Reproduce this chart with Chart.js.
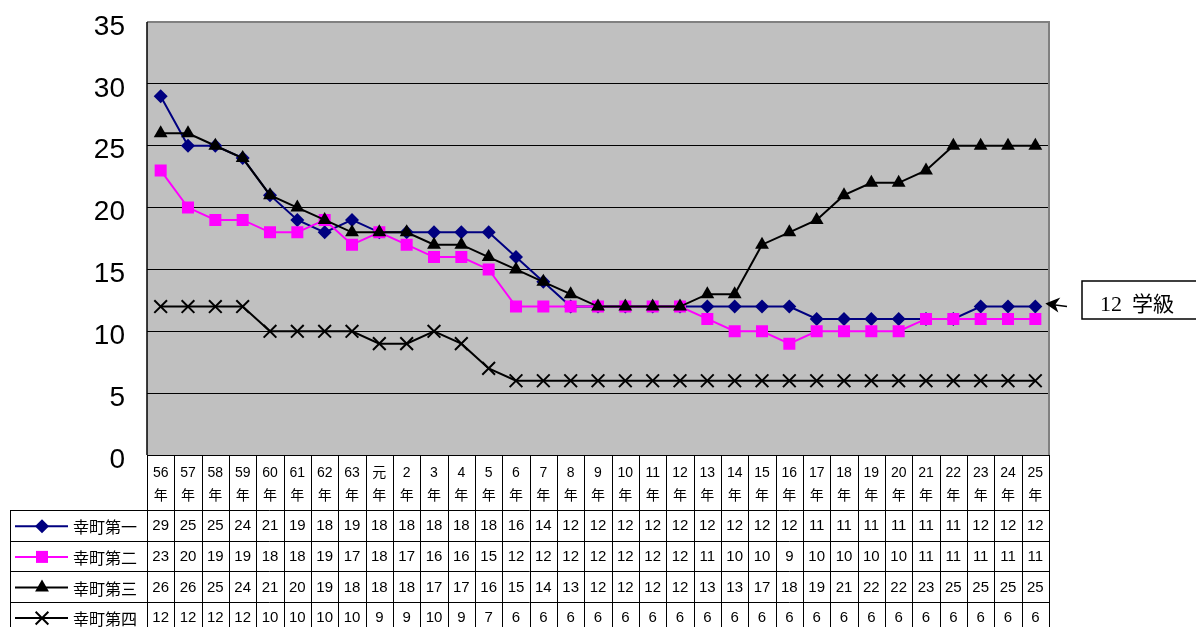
<!DOCTYPE html>
<html>
<head>
    <meta charset="utf-8" />
    <title>幸町 学級数の推移</title>
    <script src="https://cdn.jsdelivr.net/npm/chart.js@4.4.1/dist/chart.umd.min.js"></script>
    <style>
        html, body { margin: 0; padding: 0; background: #fff; }
        #wrap { width: 1196px; height: 627px; position: relative; }
    </style>
</head>
<body>
<div id="wrap"><canvas id="chartClasses"></canvas></div>
<script>
    // years (Showa 56 .. 63, Heisei 元 .. 25)
    var yearLabels = ['56', '57', '58', '59', '60', '61', '62', '63', '元', '2', '3', '4', '5', '6', '7', '8',
        '9', '10', '11', '12', '13', '14', '15', '16', '17', '18', '19', '20', '21', '22', '23', '24', '25'];

    var seriesNames = ['幸町第一', '幸町第二', '幸町第三', '幸町第四'];

    var daiichi = [29, 25, 25, 24, 21, 19, 18, 19, 18, 18, 18, 18, 18, 16, 14, 12, 12, 12, 12, 12, 12, 12, 12, 12,
        11, 11, 11, 11, 11, 11, 12, 12, 12];
    var daini = [23, 20, 19, 19, 18, 18, 19, 17, 18, 17, 16, 16, 15, 12, 12, 12, 12, 12, 12, 12, 11, 10, 10, 9,
        10, 10, 10, 10, 11, 11, 11, 11, 11];
    var daisan = [26, 26, 25, 24, 21, 20, 19, 18, 18, 18, 17, 17, 16, 15, 14, 13, 12, 12, 12, 12, 13, 13, 17, 18,
        19, 21, 22, 22, 23, 25, 25, 25, 25];
    var daiyon = [12, 12, 12, 12, 10, 10, 10, 10, 9, 9, 10, 9, 7, 6, 6, 6, 6, 6, 6, 6, 6, 6, 6, 6,
        6, 6, 6, 6, 6, 6, 6, 6, 6];

    var yTicks = [0, 5, 10, 15, 20, 25, 30, 35];

    var colors = ['#000080', '#FF00FF', '#000000', '#000000'];
    var styles = ['rectRot', 'rect', 'triangle', 'crossRot'];
    var radii = [7, 8.5, 8, 9];

    // draw a marker like chart.js does, for the table legend
    function marker(ctx, style, x, y, r, color) {
        ctx.save();
        ctx.fillStyle = color;
        ctx.strokeStyle = color;
        ctx.lineWidth = 2;
        ctx.beginPath();
        if (style === 'rectRot') {
            ctx.moveTo(x - r, y); ctx.lineTo(x, y - r); ctx.lineTo(x + r, y); ctx.lineTo(x, y + r);
            ctx.closePath(); ctx.fill();
        } else if (style === 'rect') {
            var s = r * Math.SQRT1_2;
            ctx.rect(x - s, y - s, 2 * s, 2 * s); ctx.fill();
        } else if (style === 'triangle') {
            ctx.moveTo(x, y - r); ctx.lineTo(x + 0.866 * r, y + 0.5 * r); ctx.lineTo(x - 0.866 * r, y + 0.5 * r);
            ctx.closePath(); ctx.fill();
        } else {
            var c = r * Math.SQRT1_2;
            ctx.moveTo(x - c, y - c); ctx.lineTo(x + c, y + c);
            ctx.moveTo(x + c, y - c); ctx.lineTo(x - c, y + c);
            ctx.stroke();
        }
        ctx.restore();
    }

    var plotBack = {
        id: 'plotBack',
        beforeDraw: function (chart) {
            var a = chart.chartArea, ctx = chart.ctx;
            ctx.save();
            ctx.fillStyle = '#C0C0C0';
            ctx.fillRect(a.left, a.top, a.right - a.left, a.bottom - a.top);
            ctx.restore();
        }
    };

    var dataTable = {
        id: 'dataTable',
        afterDraw: function (chart) {
            var ctx = chart.ctx, a = chart.chartArea, xs = chart.scales.x;
            var n = yearLabels.length;
            var colW = (a.right - a.left) / n;
            var top = a.bottom, headH = 55, rowH = 30.6;
            var allRows = [daiichi, daini, daisan, daiyon];
            var legendLeft = 10;

            ctx.save();
            // plot frame
            ctx.strokeStyle = '#808080';
            ctx.lineWidth = 2;
            ctx.beginPath();
            ctx.moveTo(a.left, a.top); ctx.lineTo(a.right, a.top); ctx.lineTo(a.right, a.bottom);
            ctx.stroke();
            ctx.strokeStyle = '#000';
            ctx.lineWidth = 1.5;
            ctx.beginPath();
            ctx.moveTo(a.left, a.top); ctx.lineTo(a.left, a.bottom);
            ctx.stroke();

            // table grid
            ctx.lineWidth = 1;
            ctx.strokeStyle = '#000';
            ctx.beginPath();
            ctx.moveTo(a.left, top + 0.5); ctx.lineTo(a.right, top + 0.5);
            for (var r = 0; r <= 4; r++) {
                var yy = Math.round(top + headH + r * rowH) + 0.5;
                ctx.moveTo(legendLeft, yy); ctx.lineTo(a.right, yy);
            }
            for (var i = 0; i <= n; i++) {
                var xx = Math.round(a.left + i * colW) + 0.5;
                ctx.moveTo(xx, top); ctx.lineTo(xx, 640);
            }
            ctx.moveTo(legendLeft + 0.5, top + headH); ctx.lineTo(legendLeft + 0.5, 640);
            ctx.stroke();

            // header labels
            ctx.fillStyle = '#000';
            ctx.textAlign = 'center';
            ctx.textBaseline = 'middle';
            for (i = 0; i < n; i++) {
                var cx = xs.getPixelForValue(i);
                ctx.font = '14px "Liberation Sans", Arial, "Noto Sans CJK JP"';
                ctx.fillText(yearLabels[i], cx, top + 18);
                ctx.font = '14px "Noto Sans CJK JP"';
                ctx.fillText('年', cx, top + 40);
            }

            // data rows
            for (r = 0; r < allRows.length; r++) {
                var cy = top + headH + r * rowH + rowH / 2 + 1;
                ctx.font = '15px "Liberation Sans", Arial';
                ctx.textAlign = 'center';
                for (i = 0; i < n; i++) {
                    ctx.fillText(String(allRows[r][i]), xs.getPixelForValue(i), cy);
                }
                // legend key
                ctx.strokeStyle = colors[r];
                ctx.lineWidth = 2;
                ctx.beginPath();
                ctx.moveTo(15, cy); ctx.lineTo(68, cy);
                ctx.stroke();
                marker(ctx, styles[r], 42, cy, radii[r], colors[r]);
                ctx.fillStyle = '#000';
                ctx.textAlign = 'left';
                ctx.font = '16px "Noto Sans CJK JP"';
                ctx.fillText(seriesNames[r], 73, cy + 1);
            }

            // note box with arrow to the last value
            var ys = chart.scales.y;
            var tipX = xs.getPixelForValue(n - 1) + 10;
            var tipY = ys.getPixelForValue(daiichi[n - 1]) - 3;
            ctx.strokeStyle = '#000';
            ctx.lineWidth = 1.5;
            ctx.strokeRect(1082, 281, 130, 38);
            ctx.beginPath();
            ctx.moveTo(1067, tipY + 3); ctx.lineTo(tipX + 6, tipY + 1);
            ctx.stroke();
            ctx.fillStyle = '#000';
            ctx.beginPath();
            ctx.moveTo(tipX, tipY);
            ctx.lineTo(tipX + 15, tipY - 6);
            ctx.lineTo(tipX + 10, tipY + 1);
            ctx.lineTo(tipX + 13, tipY + 9);
            ctx.closePath();
            ctx.fill();
            ctx.textAlign = 'left';
            ctx.font = '22px "Liberation Serif", "Noto Sans CJK JP"';
            ctx.fillText('12', 1100, 305);
            ctx.font = '21px "Noto Sans CJK JP"';
            ctx.fillText('学級', 1132, 303);
            ctx.restore();
        }
    };

    var allData = [daiichi, daini, daisan, daiyon];
    var datasets = [];
    for (var k = 0; k < 4; k++) {
        datasets.push({
            label: seriesNames[k],
            data: allData[k],
            borderColor: colors[k],
            backgroundColor: colors[k],
            borderWidth: 2,
            pointStyle: styles[k],
            pointRadius: radii[k],
            pointBorderWidth: k === 3 ? 2 : 0,
            pointBorderColor: colors[k],
            pointBackgroundColor: colors[k],
            tension: 0,
            fill: false,
            order: 4 - k
        });
    }

    const ctx = document.getElementById('chartClasses').getContext('2d');
    const myChart = new Chart(ctx, {
        type: 'line',
        data: {
            labels: yearLabels,
            datasets: datasets
        },
        options: {
            responsive: true,
            maintainAspectRatio: false,
            animation: false,
            events: [],
            layout: { padding: { left: 0, right: 147, top: 22, bottom: 172 } },
            plugins: {
                legend: { display: false },
                tooltip: { enabled: false }
            },
            scales: {
                x: {
                    offset: true,
                    grid: { display: false },
                    border: { display: false },
                    ticks: { display: false },
                    afterFit: function (s) { s.height = 0; }
                },
                y: {
                    min: 0,
                    max: 35,
                    afterBuildTicks: function (s) {
                        s.ticks = yTicks.map(function (v) { return { value: v }; });
                    },
                    afterFit: function (s) {
                        s.width = 147;
                        s.paddingTop = 0;
                        s.paddingBottom = 0;
                    },
                    border: { display: false },
                    grid: {
                        color: function (c) { return c.tick && c.tick.value === 35 ? '#808080' : '#000'; },
                        lineWidth: 1,
                        drawTicks: false
                    },
                    ticks: {
                        padding: 22,
                        labelOffset: 5,
                        color: '#000',
                        font: { family: '"Liberation Sans", Arial', size: 28 }
                    }
                }
            }
        },
        plugins: [plotBack, dataTable]
    });
</script>
</body>
</html>
